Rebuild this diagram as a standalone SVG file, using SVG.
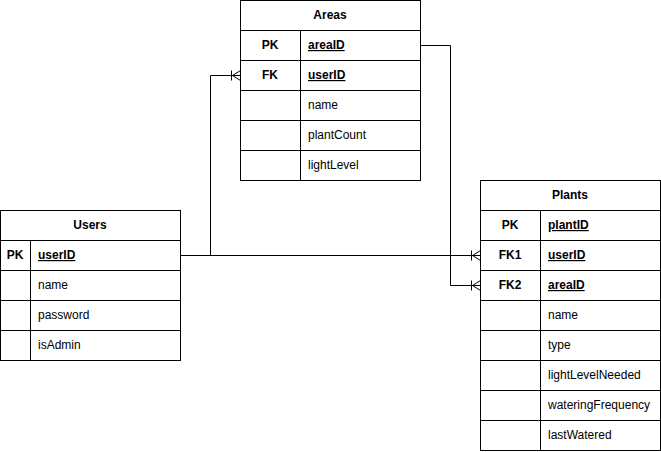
<svg xmlns="http://www.w3.org/2000/svg" width="661" height="452" viewBox="0 0 661 452">
<defs>
<style>
.box{fill:#fff;stroke:#000;stroke-width:1}
.ln{stroke:#000;stroke-width:1;fill:none}
.t{font-family:"Liberation Sans",Arial,sans-serif;font-size:12px;fill:#000}
.b{font-weight:bold}
.u{text-decoration:underline}
.c{text-anchor:middle}
</style>
<marker id="many" markerWidth="12" markerHeight="12" refX="10" refY="6" orient="auto" markerUnits="userSpaceOnUse" overflow="visible">
<path d="M10,1 L2,6 L10,11 M2,6 L10,6 M1,1 L1,11" fill="none" stroke="#000" stroke-width="1"/>
</marker>
</defs>
<g id="connectors">
<path class="ln" d="M180.5,255.5 H210.5 V75.5 H240.5" marker-end="url(#many)"/>
<path class="ln" d="M180.5,255.5 H480.5" marker-end="url(#many)"/>
<path class="ln" d="M420.5,45.5 H450.5 V285.5 H480.5" marker-end="url(#many)"/>
</g>
<g id="Areas">
<rect class="box" x="240.5" y="0.5" width="180" height="180"/>
<path class="ln" d="M240.5,30.5 H420.5 M240.5,60.5 H420.5 M240.5,90.5 H420.5 M240.5,120.5 H420.5 M240.5,150.5 H420.5 M300.5,30.5 V180.5"/>
<text class="t b c" x="330" y="19">Areas</text>
<text class="t b c" x="270" y="49">PK</text>
<text class="t b u" x="308" y="49">areaID</text>
<text class="t b c" x="270" y="79">FK</text>
<text class="t b u" x="308" y="79">userID</text>
<text class="t" x="308" y="109">name</text>
<text class="t" x="308" y="139">plantCount</text>
<text class="t" x="308" y="169">lightLevel</text>
</g>
<g id="Users">
<rect class="box" x="0.5" y="210.5" width="180" height="150"/>
<path class="ln" d="M0.5,240.5 H180.5 M0.5,270.5 H180.5 M0.5,300.5 H180.5 M0.5,330.5 H180.5 M30.5,240.5 V360.5"/>
<text class="t b c" x="90" y="229">Users</text>
<text class="t b c" x="15" y="259">PK</text>
<text class="t b u" x="38" y="259">userID</text>
<text class="t" x="38" y="289">name</text>
<text class="t" x="38" y="319">password</text>
<text class="t" x="38" y="349">isAdmin</text>
</g>
<g id="Plants">
<rect class="box" x="480.5" y="180.5" width="180" height="270"/>
<path class="ln" d="M480.5,210.5 H660.5 M480.5,240.5 H660.5 M480.5,270.5 H660.5 M480.5,300.5 H660.5 M480.5,330.5 H660.5 M480.5,360.5 H660.5 M480.5,390.5 H660.5 M480.5,420.5 H660.5 M540.5,210.5 V450.5"/>
<text class="t b c" x="570" y="199">Plants</text>
<text class="t b c" x="510" y="229">PK</text>
<text class="t b u" x="548" y="229">plantID</text>
<text class="t b c" x="510" y="259">FK1</text>
<text class="t b u" x="548" y="259">userID</text>
<text class="t b c" x="510" y="289">FK2</text>
<text class="t b u" x="548" y="289">areaID</text>
<text class="t" x="548" y="319">name</text>
<text class="t" x="548" y="349">type</text>
<text class="t" x="548" y="379">lightLevelNeeded</text>
<text class="t" x="548" y="409">wateringFrequency</text>
<text class="t" x="548" y="439">lastWatered</text>
</g>
</svg>
